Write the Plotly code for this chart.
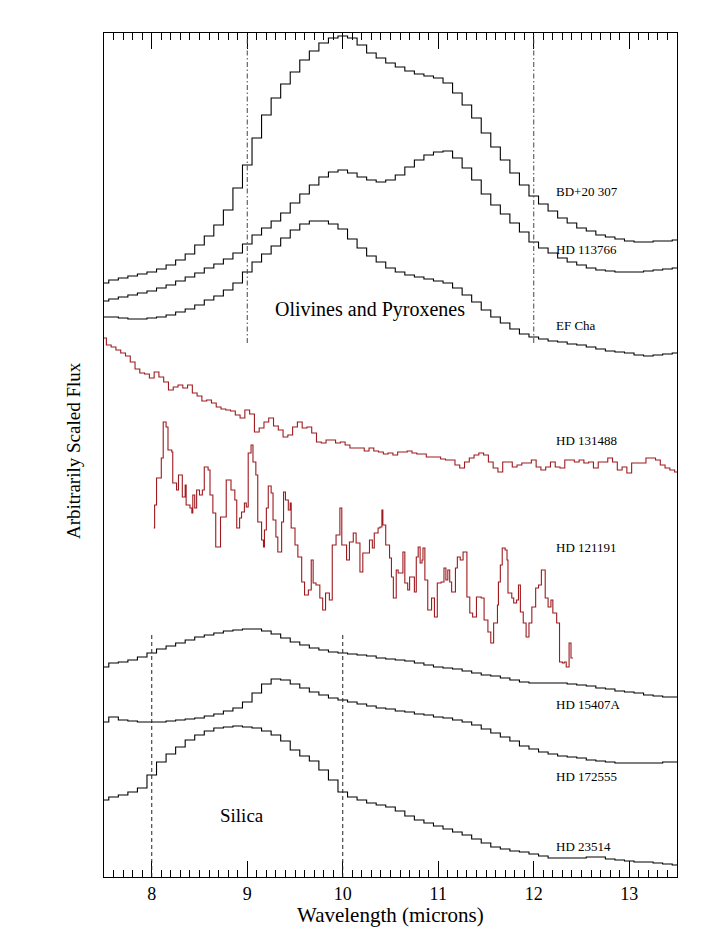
import numpy as np
import plotly.graph_objects as go

# Wavelength grids (microns)
wl_coarse = np.round(np.arange(7.5, 13.5001, 0.1), 2)      # black spectra, 61 bins
wl_fine = np.round(np.arange(7.5, 13.5001, 0.05), 2)       # HD 131488, 121 bins

# Spectra (larger = lower on page).
# Flux shown = ZERO - reading (arbitrary scaling, offsets as in the original).
ZERO = 900

bd20307 = [283, 280, 278, 276, 274, 272,
           269, 265, 260, 254, 245, 236, 225, 210, 188, 165,
           138, 115, 98, 84, 72, 60, 51, 43, 38, 36,
           38, 45, 53, 58, 63, 67, 71, 74, 76, 78,
           83, 93, 105, 118, 133, 147, 160, 173, 185, 196,
           204, 211, 218, 223, 228, 231, 235, 237, 239, 241,
           242, 242, 241, 241, 240]

hd113766 = [301, 299, 297, 295, 293, 291,
            288, 285, 281, 277, 273, 268, 264, 259, 253, 244,
            235, 228, 221, 213, 203, 194, 185, 177, 172, 170,
            173, 177, 180, 182, 180, 175, 167, 160, 155, 152,
            151, 158, 168, 180, 194, 205, 214, 223, 232, 242,
            248, 253, 258, 262, 265, 268, 270, 271, 272, 272,
            272, 271, 270, 269, 268]

efcha = [317, 317, 318, 319, 319, 318,
         317, 315, 312, 309, 305, 300, 296, 290, 283, 272,
         262, 254, 246, 238, 230, 224, 221, 221, 224, 229,
         239, 248, 256, 262, 268, 272, 275, 277, 279, 281,
         283, 288, 295, 302, 310, 317, 323, 329, 334, 337,
         339, 341, 342, 344, 345, 347, 349, 351, 352, 353,
         355, 356, 355, 354, 353]

hd15407a = [667, 663, 662, 660, 657, 653,
            649, 646, 643, 640, 637, 635, 633, 631, 630, 629,
            629, 631, 634, 638, 642, 645, 648, 650, 652, 653,
            654, 655, 656, 658, 659, 660, 661, 663, 665, 667,
            668, 669, 671, 673, 675, 676, 678, 680, 682, 683,
            683, 683, 683, 684, 685, 686, 688, 689, 691, 692,
            693, 695, 696, 697, 697]

hd172555 = [722, 717, 720, 721, 722, 722,
            722, 721, 720, 719, 718, 716, 714, 711, 708, 702,
            693, 684, 679, 680, 684, 688, 692, 695, 698, 700,
            702, 704, 706, 708, 709, 711, 712, 714, 715, 717,
            718, 720, 722, 725, 729, 733, 737, 741, 746, 749,
            752, 754, 756, 757, 758, 760, 761, 762, 763, 763,
            763, 763, 763, 762, 762]

hd23514 = [800, 797, 795, 792, 788, 775,
           762, 754, 747, 740, 735, 731, 728, 727, 726, 727,
           728, 731, 735, 741, 750, 756, 761, 770, 780, 792,
           797, 800, 803, 805, 807, 811, 816, 820, 823, 826,
           829, 832, 835, 839, 843, 847, 849, 851, 852, 854,
           856, 858, 858, 858, 858, 857, 857, 859, 860, 861,
           862, 862, 863, 864, 865]

hd131488 = [338, 345, 347, 350, 353, 356, 362, 369, 373, 374,
            378, 372, 377, 382, 390, 387, 385, 388, 385, 393,
            396, 401, 400, 403, 407, 409, 410, 411, 415, 418,
            410, 414, 432, 428, 422, 418, 426, 430, 437, 435,
            427, 422, 428, 427, 433, 442, 443, 440, 440, 443,
            442, 445, 448, 448, 448, 451, 448, 451, 452, 454,
            453, 455, 452, 452, 451, 453, 454, 454, 457, 457,
            457, 459, 460, 460, 465, 468, 462, 458, 455, 453,
            455, 462, 468, 472, 462, 462, 467, 465, 463, 463,
            460, 467, 470, 467, 462, 467, 468, 460, 460, 462,
            460, 463, 462, 468, 462, 462, 458, 462, 470, 467,
            473, 463, 463, 463, 458, 458, 460, 465, 468, 470, 472]

# HD 121191: (wavelength, reading) pairs, irregular bins
hd121191 = [
    (8.02, 528), (8.03, 505), (8.05, 478), (8.10, 458), (8.12, 422), (8.15, 427),
    (8.17, 450), (8.21, 452), (8.22, 483), (8.26, 490), (8.28, 475), (8.31, 475),
    (8.32, 497), (8.35, 485), (8.36, 505), (8.40, 508), (8.42, 513), (8.43, 495),
    (8.45, 508), (8.47, 490), (8.50, 495), (8.53, 490), (8.55, 467), (8.59, 470),
    (8.61, 495), (8.64, 513), (8.67, 547), (8.71, 547), (8.72, 517), (8.75, 517),
    (8.78, 480), (8.82, 480), (8.83, 490), (8.87, 500), (8.89, 528), (8.92, 518),
    (8.94, 512), (8.97, 503), (8.99, 507), (9.01, 453), (9.04, 445), (9.06, 462),
    (9.09, 475), (9.11, 522), (9.15, 540), (9.17, 547), (9.18, 530), (9.20, 508),
    (9.22, 486), (9.25, 493), (9.27, 520), (9.30, 537), (9.32, 552), (9.36, 522),
    (9.38, 492), (9.40, 500), (9.43, 510), (9.45, 503), (9.46, 528), (9.50, 545),
    (9.53, 557), (9.57, 582), (9.60, 595), (9.64, 590), (9.67, 560), (9.69, 583),
    (9.72, 585), (9.76, 598), (9.79, 610), (9.82, 593), (9.86, 600), (9.89, 545),
    (9.93, 535), (9.97, 508), (9.99, 545), (10.02, 545), (10.04, 560), (10.07, 542),
    (10.11, 533), (10.14, 543), (10.18, 572), (10.21, 553), (10.25, 553), (10.28, 540),
    (10.31, 548), (10.33, 533), (10.37, 528), (10.39, 527), (10.41, 510), (10.42, 525),
    (10.45, 545), (10.49, 558), (10.51, 577), (10.53, 598), (10.56, 570), (10.58, 573),
    (10.62, 573), (10.63, 552), (10.65, 583), (10.68, 590), (10.70, 577), (10.73, 577),
    (10.75, 592), (10.77, 557), (10.79, 547), (10.81, 563), (10.83, 560), (10.84, 548),
    (10.86, 580), (10.89, 610), (10.93, 598), (10.96, 617), (10.99, 583), (11.03, 582),
    (11.06, 568), (11.08, 580), (11.10, 570), (11.12, 582), (11.14, 592), (11.18, 568),
    (11.20, 557), (11.23, 560), (11.26, 552), (11.30, 597), (11.33, 613), (11.36, 617),
    (11.40, 597), (11.45, 598), (11.48, 620), (11.52, 632), (11.55, 643), (11.58, 623),
    (11.62, 605), (11.63, 582), (11.65, 565), (11.67, 548), (11.70, 550), (11.72, 560),
    (11.73, 593), (11.77, 598), (11.79, 603), (11.82, 600), (11.84, 585), (11.86, 612),
    (11.89, 623), (11.92, 637), (11.95, 623), (11.98, 607), (12.02, 588), (12.05, 585),
    (12.08, 570), (12.12, 598), (12.15, 607), (12.18, 600), (12.20, 613), (12.24, 623),
    (12.27, 662), (12.30, 663), (12.32, 662), (12.34, 667), (12.37, 643), (12.39, 658),
    (12.41, 658),
]

star_names = ["BD+20 307", "HD 113766", "EF Cha", "HD 131488", "HD 121191",
              "HD 15407A", "HD 172555", "HD 23514"]
# label vertical positions (same reading convention)
label_pos = [191, 249, 325, 440, 547, 704, 776, 846]
label_wl = 12.21

BLACK = "#000000"
RED = "#9e1a1f"
SERIF = "Liberation Serif, Times New Roman, serif"

fig = go.Figure()

def add_step(x, reading, color, shape="hvh"):
    fig.add_trace(go.Scatter(
        x=list(x), y=[ZERO - v for v in reading], mode="lines",
        line=dict(color=color, width=1.1, shape=shape),
        showlegend=False, hoverinfo="skip"))

for series in [bd20307, hd113766, efcha, hd15407a, hd172555, hd23514]:
    add_step(wl_coarse, series, BLACK)
add_step(wl_fine, hd131488, RED)
w121, f121 = zip(*hd121191)
add_step(w121, f121, RED, shape="hv")

# Reference lines
for wl in [9, 12]:
    fig.add_shape(type="line", x0=wl, x1=wl, y0=ZERO - 343, y1=ZERO - 33,
                  xref="x", yref="y",
                  line=dict(color="#444", width=1, dash="5px,2.5px,1.5px,2.5px"))
for wl in [8, 10]:
    fig.add_shape(type="line", x0=wl, x1=wl, y0=ZERO - 877, y1=ZERO - 635,
                  xref="x", yref="y", line=dict(color="#222", width=1, dash="4px,3px"))

for name, pos in zip(star_names, label_pos):
    fig.add_annotation(x=label_wl, y=ZERO - pos, text=name, showarrow=False,
                       xanchor="left", yanchor="middle",
                       font=dict(family=SERIF, size=13, color="black"))

fig.add_annotation(x=10.29, y=ZERO - 309, text="Olivines and Pyroxenes", showarrow=False,
                   xanchor="center", yanchor="middle",
                   font=dict(family=SERIF, size=20, color="black"))
fig.add_annotation(x=8.94, y=ZERO - 815, text="Silica", showarrow=False,
                   xanchor="center", yanchor="middle",
                   font=dict(family=SERIF, size=19, color="black"))

# Axis titles
fig.add_annotation(xref="paper", yref="paper", x=0.5, y=0, yshift=-38,
                   text="Wavelength (microns)", showarrow=False,
                   xanchor="center", yanchor="middle",
                   font=dict(family=SERIF, size=21, color="black"))
fig.add_annotation(xref="paper", yref="paper", x=0, xshift=-30,
                   y=(877 - 451) / (877 - 33),
                   text="Arbitrarily Scaled Flux", showarrow=False, textangle=-90,
                   xanchor="center", yanchor="middle",
                   font=dict(family=SERIF, size=19, color="black"))

# The page body adds an 8px margin, so the figure is sized/offset to compensate.
fig.update_layout(
    width=700, height=936,
    margin=dict(l=96, r=31, t=25, b=67),
    paper_bgcolor="white", plot_bgcolor="white",
    font=dict(family=SERIF, color="black"),
    xaxis=dict(range=[7.5, 13.5], showgrid=False, zeroline=False,
               showline=True, linecolor="black", linewidth=1, mirror="ticks",
               ticks="inside", ticklen=16, tickwidth=1, tickcolor="black",
               tick0=8, dtick=1,
               minor=dict(ticks="inside", ticklen=7, tickwidth=1, tickcolor="black",
                          dtick=0.1, tick0=7.5, showgrid=False),
               tickfont=dict(family=SERIF, size=18, color="black")),
    yaxis=dict(range=[ZERO - 877, ZERO - 33], showgrid=False, zeroline=False,
               showline=True, linecolor="black", linewidth=1, mirror=True,
               showticklabels=False, ticks=""),
)

fig.write_html("out.html")
